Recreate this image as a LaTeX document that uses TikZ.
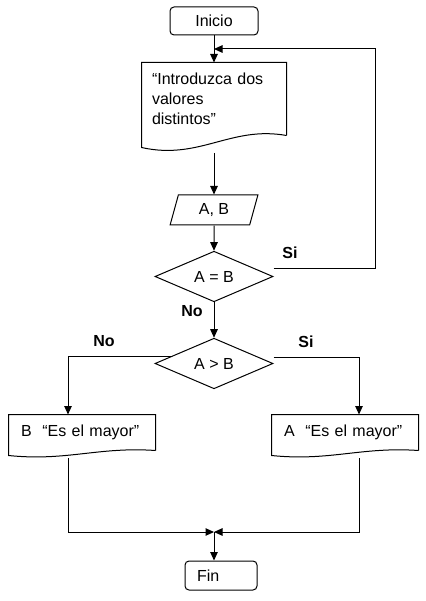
\documentclass[tikz,border=0pt]{standalone}
\usepackage{fontspec}
\setmainfont{Liberation Sans}
\usetikzlibrary{arrows.meta, calc, shapes.geometric}

% outline of a document symbol: node, drop of left corner, two control shifts
\newcommand{\bordeDoc}[6]{%
  \draw (#1.south east) -- (#1.north east) -- (#1.north west) -- ([yshift=-#2pt]#1.south west)
    .. controls ([xshift=#5pt, yshift=#6pt]#1.south west) and ([xshift=#3pt, yshift=#4pt]#1.south east) .. (#1.south east);}

\begin{document}
\begin{tikzpicture}[x=1pt, y=1pt, line width=1pt,
        every node/.style={font=\fontsize{16}{20.25}\selectfont},
        terminal/.style={draw, rounded corners=4pt, minimum height=28pt, inner sep=0pt},
        documento/.style={align=left, inner ysep=3pt},
        datos/.style={draw, trapezium, trapezium left angle=75, trapezium right angle=105,
            trapezium stretches=true, minimum width=88pt, minimum height=30pt, inner sep=0pt},
        decision/.style={draw, diamond, minimum width=118pt, minimum height=43pt, inner sep=0pt},
        flecha/.style={-{Triangle[length=8.5pt, width=7.5pt]}},
        etiqueta/.style={font=\fontsize{16}{19}\selectfont\bfseries}]

        \useasboundingbox (0,0) rectangle (425,-601);

        % --- Main column ---
        \node[terminal, minimum width=88pt] (inicio) at (214,-21) {Inicio};
        \node[documento, text width=124pt, inner xsep=10pt, minimum height=72pt] (doc1) at (214,-99)
            {“Introduzca dos\\valores\\distintos”};
        \node[datos] (ab) at (214,-210) {A, B};
        \node[decision] (d1) at (214,-276.5) {A = B};
        \node[decision] (d2) at (214,-363.5) {A > B};

        % --- Results ---
        \node[documento, text width=122pt, inner xsep=12pt, minimum height=35pt] (docB) at (82,-432.5)
            {B\ \ “Es el mayor”};
        \node[documento, text width=122pt, inner xsep=12pt, minimum height=35pt] (docA) at (345,-432.5)
            {A\ \ “Es el mayor”};
        \node[terminal, minimum width=72pt, minimum height=29pt, text width=48pt, align=left, inner xsep=12pt]
            (fin) at (221,-575.5) {Fin};

        \bordeDoc{doc1}{12}{-56}{10}{58}{-25}
        \bordeDoc{docB}{5}{-57}{4}{58}{-11}
        \bordeDoc{docA}{5}{-57}{4}{58}{-11}

        % Branch labels
        \node[etiqueta] (si1) at (290,-253) {Si};
        \node[etiqueta] (no1) at (192,-311) {No};
        \node[etiqueta] (no2) at (104,-341) {No};
        \node[etiqueta] (si2) at (306,-342) {Si};

        % Helper points
        \coordinate (entrada) at (214,-49);
        \coordinate (retorno) at (375,-49);
        \coordinate (salDoc1) at (214,-153);
        \coordinate (salB) at (68,-458);
        \coordinate (salA) at (359,-458);
        \coordinate (colIzq) at (68,-532);
        \coordinate (colDer) at (359,-532);
        \coordinate (union) at (214,-532);

        % --- Connectors ---
        \draw[flecha] (inicio) -- (doc1);
        \draw[flecha] (salDoc1) -- (ab);
        \draw[flecha] (ab) -- (d1);
        \draw[flecha] (d1) -- (d2);
        \draw[flecha] ([yshift=8.5pt]d1.east) -| (retorno) -- (entrada);
        \draw[flecha] (d2.170) -| (docB.north -| colIzq);
        \draw[flecha] ([yshift=6.5pt]d2.east) -| (docA.north -| colDer);
        \draw[flecha] (salB) -- (colIzq) -- (union);
        \draw[flecha] (salA) -- (colDer) -- (union);
        \draw[flecha] (union) -- (fin.north -| union);

    \end{tikzpicture}
\end{document}
